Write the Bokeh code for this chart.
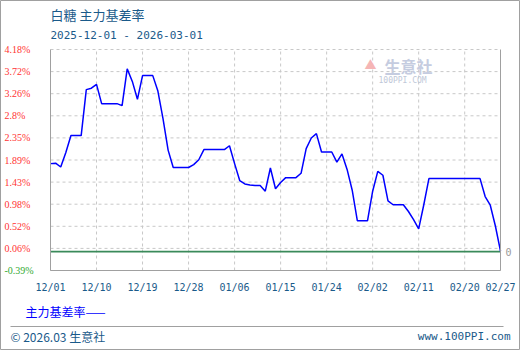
import pandas as pd
from bokeh.plotting import figure
from bokeh.models import (ColumnDataSource, FixedTicker, DatetimeTickFormatter, LinearAxis,
                          DatetimeAxis, Range1d, Label, LabelSet, BoxAnnotation)
from bokeh.embed import file_html
from bokeh.resources import INLINE

# ---------------- data ----------------
start_date = "2025-12-01"
end_date = "2026-02-27"
dates = pd.date_range(start_date, end_date, freq="D")

basis_rate = [
    1.82, 1.83, 1.75, 2.05, 2.40, 2.40, 2.40,          # 12/01-12/07
    3.35, 3.38, 3.46, 3.06, 3.06, 3.06, 3.06,          # 12/08-12/14
    3.02, 3.78, 3.52, 3.15, 3.64, 3.64, 3.64,          # 12/15-12/21
    3.32, 2.75, 2.10, 1.74, 1.74, 1.74, 1.74,          # 12/22-12/28
    1.80, 1.90, 2.11, 2.11, 2.11, 2.11, 2.11,          # 12/29-01/04
    2.19, 1.82, 1.47, 1.40, 1.38, 1.37, 1.37,          # 01/05-01/11
    1.25, 1.73, 1.30, 1.43, 1.53, 1.53, 1.53,          # 01/12-01/18
    1.62, 2.13, 2.35, 2.44, 2.06, 2.06, 2.06,          # 01/19-01/25
    1.85, 2.02, 1.70, 1.27, 0.64, 0.64, 0.64,          # 01/26-02/01
    1.25, 1.66, 1.58, 1.05, 0.97, 0.97, 0.97,          # 02/02-02/08
    0.83, 0.66, 0.47, 0.97, 1.51, 1.51, 1.51,          # 02/09-02/15
    1.51, 1.51, 1.51, 1.51, 1.51, 1.51, 1.51,          # 02/16-02/22
    1.51, 1.14, 0.96, 0.53, 0.01,                      # 02/23-02/27
]

x_tick_dates = ["2025-12-01", "2025-12-10", "2025-12-19", "2025-12-28", "2026-01-06",
                "2026-01-15", "2026-01-24", "2026-02-02", "2026-02-11", "2026-02-20",
                "2026-02-27"]
y_tick_values = [-0.39, 0.067, 0.524, 0.981, 1.438, 1.895, 2.352, 2.809, 3.266, 3.723, 4.18]
y_tick_labels = ["-0.39%", "0.06%", "0.52%", "0.98%", "1.43%", "1.89%", "2.35%", "2.8%",
                 "3.26%", "3.72%", "4.18%"]
y_min, y_max = -0.39, 4.18

title_text = "白糖  主力基差率"
range_text = "2025-12-01 - 2026-03-01"
series_name = "主力基差率"

# ---------------- layout (canvas px) ----------------
W, H = 520, 350
PL, PR, PT, PB = 50, 500, 49, 270   # data area inside the canvas

xs0 = pd.Timestamp(start_date).value / 1e6
xs1 = pd.Timestamp(end_date).value / 1e6
kx = (xs1 - xs0) / (PR - PL)
ky = (y_max - y_min) / (PB - PT)

p = figure(width=W, height=H, x_axis_type=None, y_axis_type=None,
           x_range=Range1d(xs0 - PL * kx, xs1 + (W - PR) * kx),
           y_range=Range1d(y_min - (H - PB) * ky, y_max + PT * ky),
           output_backend="svg", toolbar_location=None,
           min_border=0, min_border_left=0, min_border_right=0,
           min_border_top=0, min_border_bottom=0)
p.outline_line_color = "#a0a0a0"
p.outline_line_width = 1
p.background_fill_color = "white"
p.border_fill_color = "white"
p.xgrid.visible = False
p.ygrid.visible = False

mono = "DejaVu Sans Mono"
cjk = "Noto Sans CJK SC"
grid_col = "#c8c8c8"
axis_col = "#a0a0a0"
text_blue = "#1a5a8a"

x_tick_ms = [pd.Timestamp(d).value / 1e6 for d in x_tick_dates]

# dashed grid
p.segment(x0=x_tick_ms, x1=x_tick_ms, y0=[y_min] * len(x_tick_ms), y1=[y_max] * len(x_tick_ms),
          line_color=grid_col, line_dash="3 3", line_width=1)
p.segment(x0=[xs0] * len(y_tick_values), x1=[xs1] * len(y_tick_values), y0=y_tick_values,
          y1=y_tick_values, line_color=grid_col, line_dash="3 3", line_width=1)

# zero line
p.segment(x0=[xs0], x1=[xs1], y0=[0], y1=[0], line_color="#3a8a5a", line_width=1.6)

# series
src = ColumnDataSource(dict(x=dates, y=basis_rate))
p.line("x", "y", source=src, line_color="#0000ff", line_width=1.5)

# bottom axis
xa = DatetimeAxis(fixed_location=y_min, bounds=(xs0, xs1),
                  ticker=FixedTicker(ticks=x_tick_ms),
                  formatter=DatetimeTickFormatter(days="%m/%d", months="%m/%d", years="%m/%d",
                                                  hours="%m/%d", hourmin="%m/%d"))
xa.axis_line_color = axis_col
xa.major_tick_line_color = None
xa.minor_tick_line_color = None
xa.major_tick_out = 0
xa.major_tick_in = 0
xa.major_label_standoff = 11
xa.major_label_text_font = mono
xa.major_label_text_font_size = "10px"
xa.major_label_text_color = text_blue
p.add_layout(xa, "below")

# left axis (line only; labels drawn below with per-label colours)
ya = LinearAxis(fixed_location=xs0, bounds=(y_min, y_max), ticker=FixedTicker(ticks=[]))
ya.axis_line_color = axis_col
ya.major_tick_line_color = None
ya.minor_tick_line_color = None
p.add_layout(ya, "left")

# right axis: border + "0"
ra = LinearAxis(fixed_location=xs1, bounds=(y_min, y_max), ticker=FixedTicker(ticks=[0]))
ra.axis_line_color = axis_col
ra.major_tick_line_color = None
ra.minor_tick_line_color = None
ra.major_tick_out = 0
ra.major_tick_in = 0
ra.major_label_standoff = 5
ra.major_label_text_font = mono
ra.major_label_text_font_size = "10px"
ra.major_label_text_color = "#999999"
p.add_layout(ra, "right")

# y labels
ysrc = ColumnDataSource(dict(
    y=y_tick_values, t=y_tick_labels,
    c=["#33aa33" if v < 0 else "#ff3333" for v in y_tick_values],
    x=[4] * len(y_tick_values)))
p.add_layout(LabelSet(x="x", y="y", text="t", source=ysrc, x_units="screen", y_units="data",
                      text_color="c", text_font=mono, text_font_size="10px",
                      text_align="left", text_baseline="middle"))


def lab(text, cx, cy, color, size, font, align="left", style="normal"):
    p.add_layout(Label(x=cx, y=H - cy, x_units="screen", y_units="screen", text=text,
                       text_color=color, text_font_size=size, text_font=font,
                       text_align=align, text_baseline="middle", text_font_style=style))


# titles
lab(title_text, 50, 14, text_blue, "13px", cjk)
lab(range_text, 50, 35, text_blue, "11px", mono)

# watermark
lab("▲", 364, 64, "#f5b5b5", "12px", cjk)
lab("生意社", 384, 65, "#c5cce0", "16px", cjk, style="bold")
lab("100PPI.COM", 378, 80, "#c0c8d8", "8px", mono)

# legend
lab(series_name + "——", 25, 311, "#0000ff", "12px", cjk)

# footer
p.add_layout(BoxAnnotation(left=10, right=503, top=H - 325.5, bottom=H - 326.5,
                           left_units="screen", right_units="screen", top_units="screen",
                           bottom_units="screen", fill_color="#a0a0a0", fill_alpha=1,
                           line_color=None))
lab("© 2026.03 生意社", 10, 336, text_blue, "12px", cjk)
lab("www.100PPI.com", 510, 336, text_blue, "11px", mono, align="right")

open("out.html", "w").write(file_html(p, INLINE))
